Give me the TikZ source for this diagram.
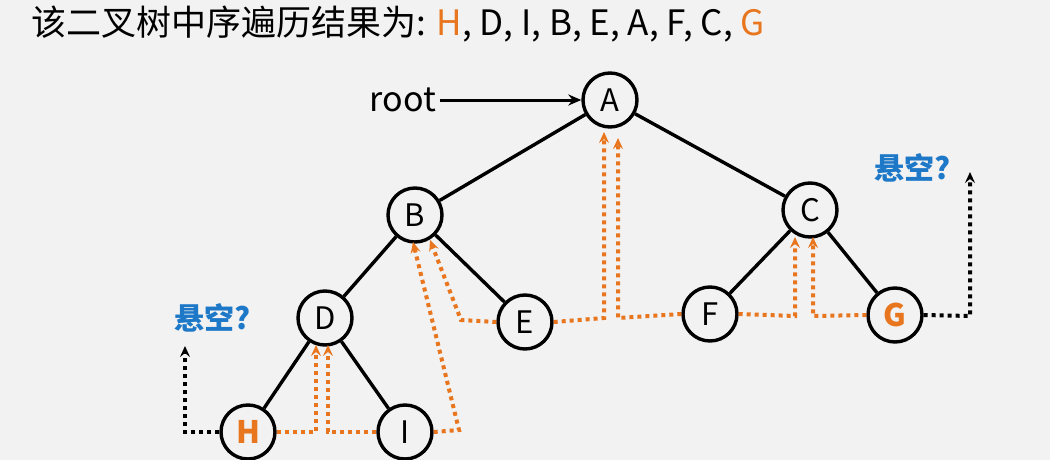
\documentclass[tikz,border=0pt]{standalone}
\usepackage{fontspec}
\setmainfont{Noto Sans CJK SC}
\usetikzlibrary{arrows.meta}
\definecolor{org}{RGB}{232,118,30}
\definecolor{blu}{RGB}{30,120,200}
\definecolor{bg}{RGB}{242,242,242}
\tikzset{
 nd/.style={circle,draw,line width=3.4pt,minimum size=54pt,inner sep=0pt,font=\fontsize{31}{31}\selectfont},
 ed/.style={line width=3.4pt},
 od/.style={draw=org,line width=4pt,dash pattern=on 4pt off 4pt,-{Stealth[length=11pt,width=10pt,inset=4pt,fill=org]}},
 bd/.style={draw=black,line width=4pt,dash pattern=on 4pt off 4pt,-{Stealth[length=11pt,width=10pt,inset=4pt]}},
 lbl/.style={text=blu,font=\bfseries\fontsize{30}{30}\selectfont}
}
\begin{document}
\begin{tikzpicture}[x=1pt,y=-1pt]
\fill[bg] (0,0) rectangle (1050,460);
\useasboundingbox (0,0) rectangle (1050,460);
\node[anchor=west,font=\fontsize{35}{35}\selectfont] (t) at (28,24) {该二叉树中序遍历结果为: \textcolor{org}{H}, D, I, B, E, A, F, C, \textcolor{org}{G}};
\node[nd] (A) at (610,100) {A};
\node[nd] (B) at (415,215) {B};
\node[nd] (C) at (810,210) {C};
\node[nd] (D) at (325,318) {D};
\node[nd] (E) at (525,322) {E};
\node[nd] (F) at (710,314) {F};
\node[nd,text=org,font=\bfseries\fontsize{31}{31}\selectfont] (G) at (895,315) {G};
\node[nd,text=org,font=\bfseries\fontsize{31}{31}\selectfont] (H) at (248,432) {H};
\node[nd] (I) at (405,432) {I};
\draw[ed] (A)--(B) (A)--(C) (B)--(D) (B)--(E) (C)--(F) (C)--(G) (D)--(H) (D)--(I);
\node[font=\fontsize{34}{34}\selectfont] (r) at (403,100) {root};
\draw[line width=3pt,-{Stealth[length=13pt,width=11pt]}] (r.east) -- (A.west);
\node[lbl] (l1) at (213,318) {悬空?};
\node[lbl] (l2) at (913,168) {悬空?};
\draw[od] (H.east) -- (316,432) -- (316,345);
\draw[od] (I.west) -- (328,432) -- (328,345);
\draw[od] (I.east) -- (459,430) -- (413,242);
\draw[od] (E.west) -- (461,320) -- (430,240);
\draw[od] (E.east) -- (604,318) -- (604,132);
\draw[od] (F.west) -- (618,318) -- (618,138);
\draw[od] (F.east) -- (795,316) -- (795,237);
\draw[od] (G.west) -- (813,316) -- (813,237);
\draw[bd] (H.west) -- (185,432) -- (185,346);
\draw[bd] (G.east) -- (970,316) -- (970,172);
\end{tikzpicture}
\end{document}
